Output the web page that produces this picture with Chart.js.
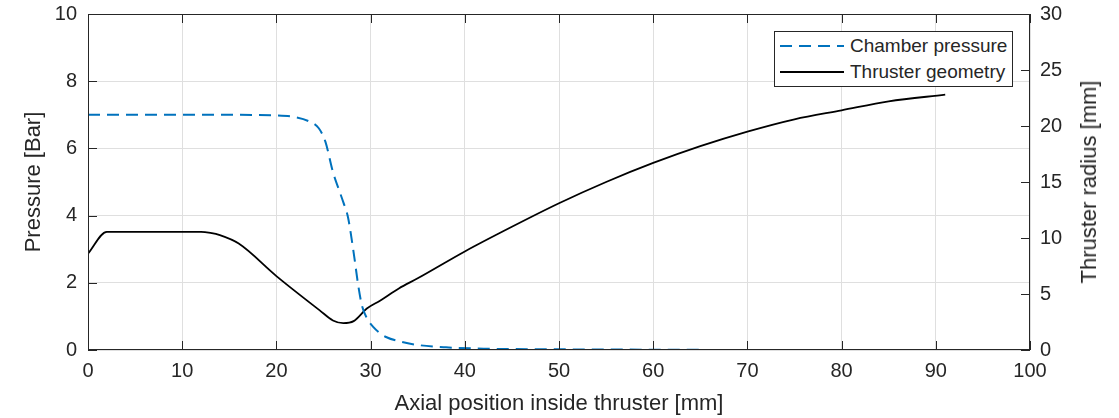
<!DOCTYPE html>
<html>
<head>
<meta charset="utf-8">
<script src="https://cdn.jsdelivr.net/npm/chart.js@4.4.1/dist/chart.umd.min.js"></script>
<style>
  html, body { margin: 0; padding: 0; background: #fff; }
  #wrap { position: relative; width: 1119px; height: 418px; }
  #legend { position: absolute; left: 774px; top: 31px; width: 237px; height: 54px;
    border: 1px solid #262626; background: #fff; font-family: "Liberation Sans", Arial, sans-serif;
    font-size: 19px; color: #262626; }
  .row { position: absolute; left: 0; height: 26px; display: flex; align-items: center; }
  .row svg { margin-left: 5px; margin-right: 6px; }
  #rtitle { position: absolute; left: 1089px; top: 182px; width: 0; height: 0; }
  #rtitle span { position: absolute; left: 0; top: 0; transform: translate(-50%, -50%) rotate(-90deg);
    white-space: nowrap; font-family: "Liberation Sans", Arial, sans-serif; font-size: 22px; color: #262626; }
</style>
</head>
<body>
<div id="wrap">
  <canvas id="c" width="1119" height="418"></canvas>
  <div id="legend"></div>
  <div id="rtitle"><span>Thruster radius [mm]</span></div>
</div>
<script>
// ---- data ----
const pressureX = [0, 5, 10, 15, 20, 22, 23.5, 24.5, 25.2, 26.0, 26.6, 27.1, 27.6, 28.2, 28.7, 29.1, 29.6, 30.3, 31.0, 31.7, 33.0, 35.0, 38.0, 42, 50, 60, 70, 80, 91];
const pressureY = [7, 7, 7, 7, 6.98, 6.93, 6.8, 6.6, 6.2, 5.3, 4.8, 4.4, 3.95, 2.9, 1.9, 1.3, 0.95, 0.68, 0.5, 0.38, 0.26, 0.15, 0.08, 0.04, 0.02, 0.01, 0, 0, 0];
const radiusX = [0, 2, 12, 13, 14, 16, 20, 24.6, 26, 27.1, 28.2, 29.6, 31, 33, 35, 40, 45, 50, 55, 60, 65, 70, 75, 80, 85, 91];
const radiusY = [8.6, 10.55, 10.55, 10.45, 10.25, 9.5, 6.6, 3.54, 2.64, 2.4, 2.58, 3.7, 4.4, 5.5, 6.4, 8.8, 11.0, 13.1, 15.0, 16.7, 18.2, 19.5, 20.6, 21.4, 22.2, 22.8];
const xTicks = [0, 10, 20, 30, 40, 50, 60, 70, 80, 90, 100];
const pressureTicks = [0, 2, 4, 6, 8, 10];
const radiusTicks = [0, 5, 10, 15, 20, 25, 30];
const seriesNames = ['Chamber pressure', 'Thruster geometry'];

const FONT = '"Liberation Sans", Arial, sans-serif';
const TXT = '#262626';
const BLUE = '#0072BD';

const boxPlugin = {
  id: 'box',
  afterDraw(chart) {
    const {ctx, chartArea: a, scales} = chart;
    ctx.save();
    ctx.strokeStyle = TXT;
    ctx.lineWidth = 1;
    ctx.strokeRect(a.left + 0.5, a.top + 0.5, a.right - a.left - 1, a.bottom - a.top - 1);
    const L = 9;
    ctx.beginPath();
    xTicks.forEach(v => {
      const px = Math.round(scales.x.getPixelForValue(v)) + 0.5;
      ctx.moveTo(px, a.bottom); ctx.lineTo(px, a.bottom - L);
      ctx.moveTo(px, a.top); ctx.lineTo(px, a.top + L);
    });
    pressureTicks.forEach(v => {
      const py = Math.round(scales.y.getPixelForValue(v)) + 0.5;
      ctx.moveTo(a.left, py); ctx.lineTo(a.left + L, py);
    });
    radiusTicks.forEach(v => {
      const py = Math.round(scales.y1.getPixelForValue(v)) + 0.5;
      ctx.moveTo(a.right, py); ctx.lineTo(a.right - L, py);
    });
    ctx.stroke();
    ctx.restore();
  }
};

const fitV = w => s => { s.width = w; s.paddingTop = 0; s.paddingBottom = 0; };
const fitX = s => { s.height = 68; s.paddingLeft = 0; s.paddingRight = 0; };

const chart = new Chart(document.getElementById('c'), {
  type: 'line',
  data: {
    datasets: [
      {
        label: seriesNames[0],
        data: pressureX.map((x, i) => ({x, y: pressureY[i]})),
        borderColor: BLUE, borderWidth: 2, borderDash: [12, 7],
        pointRadius: 0, yAxisID: 'y', cubicInterpolationMode: 'monotone', fill: false
      },
      {
        label: seriesNames[1],
        data: radiusX.map((x, i) => ({x, y: radiusY[i]})),
        borderColor: '#000', borderWidth: 1.8,
        pointRadius: 0, yAxisID: 'y1', cubicInterpolationMode: 'monotone', fill: false
      }
    ]
  },
  options: {
    responsive: false,
    animation: false,
    layout: { padding: { top: 14, left: 0, right: 0, bottom: 0 } },
    plugins: { legend: { display: false }, tooltip: { enabled: false } },
    scales: {
      x: {
        type: 'linear', min: 0, max: 100,
        afterBuildTicks: s => { s.ticks = xTicks.map(v => ({value: v})); },
        afterFit: fitX,
        grid: { color: '#dfdfdf', lineWidth: 1, drawTicks: false },
        border: { display: false },
        ticks: { color: TXT, font: { family: FONT, size: 20 }, padding: 9, maxRotation: 0 },
        title: { display: true, text: 'Axial position inside thruster [mm]', color: TXT,
                 font: { family: FONT, size: 22 }, padding: { top: 0, bottom: 1 } }
      },
      y: {
        type: 'linear', position: 'left', min: 0, max: 10,
        afterBuildTicks: s => { s.ticks = pressureTicks.map(v => ({value: v})); },
        afterFit: fitV(88),
        grid: { color: '#dfdfdf', lineWidth: 1, drawTicks: false },
        border: { display: false },
        ticks: { color: TXT, font: { family: FONT, size: 20 }, padding: 11 },
        title: { display: true, text: 'Pressure [Bar]', color: TXT,
                 font: { family: FONT, size: 22 }, padding: { top: 21, bottom: 0 } }
      },
      y1: {
        type: 'linear', position: 'right', min: 0, max: 30,
        afterBuildTicks: s => { s.ticks = radiusTicks.map(v => ({value: v})); },
        afterFit: fitV(89),
        grid: { display: false, drawTicks: false },
        border: { display: false },
        ticks: { color: TXT, font: { family: FONT, size: 20 }, padding: 10 },
        title: { display: false }
      }
    }
  },
  plugins: [boxPlugin]
});

// HTML legend built from the chart's datasets
const leg = document.getElementById('legend');
chart.data.datasets.forEach((ds, i) => {
  const row = document.createElement('div');
  row.className = 'row';
  row.style.top = (i * 26 + 1) + 'px';
  const dash = ds.borderDash ? `stroke-dasharray="12 7"` : '';
  row.innerHTML = `<svg width="64" height="10"><line x1="0" y1="5" x2="64" y2="5" stroke="${ds.borderColor}" stroke-width="2" ${dash}/></svg><span>${ds.label}</span>`;
  leg.appendChild(row);
});
// place right-axis title at the vertical centre of the chart area
const a = chart.chartArea;
document.getElementById('rtitle').style.top = ((a.top + a.bottom) / 2) + 'px';
</script>
</body>
</html>
